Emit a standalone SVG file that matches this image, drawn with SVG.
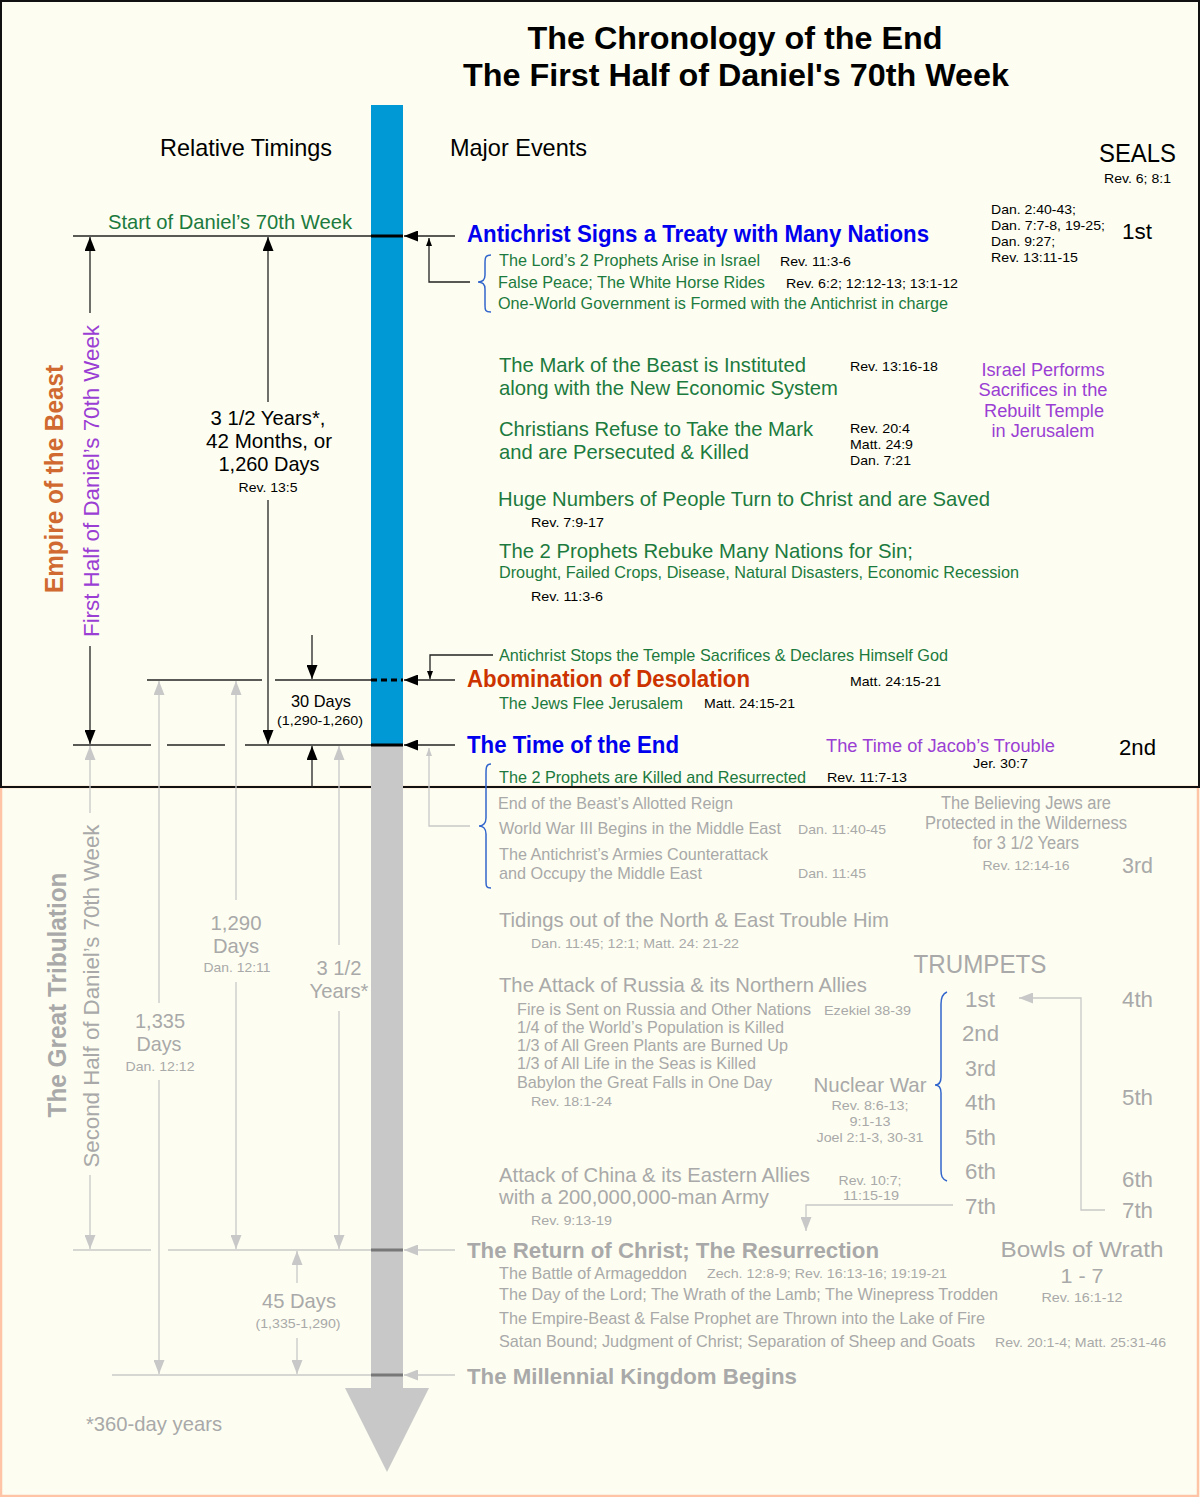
<svg xmlns="http://www.w3.org/2000/svg" width="1200" height="1497" viewBox="0 0 1200 1497">
<style>
text{font-family:"Liberation Sans",Arial,Helvetica,sans-serif}
.b{font-weight:bold}
.grn{fill:#1C7A3E}
.blk{fill:#000}
.gry{fill:#A9A9A9}
.blu{fill:#0000EE}
.pur{fill:#9B3FD4}
.red{fill:#CC3300}
.org{fill:#D06A30}
.s13{font-size:13.5px}
.s17{font-size:17px}
.s18{font-size:18px}
.s21{font-size:21px}
.s22{font-size:22px}
.s24{font-size:24px}
.s25{font-size:25px}
.m{text-anchor:middle}
.lk{stroke:#222;stroke-width:1.3;fill:none}
.lg{stroke:#C8C8C8;stroke-width:1.3;fill:none}
.br{stroke:#3366CC;stroke-width:1.5;fill:none}
</style>
<defs>
<marker id="ak" viewBox="0 0 14 11" refX="14" refY="5.5" markerWidth="14" markerHeight="11" markerUnits="userSpaceOnUse" orient="auto"><path d="M0,0L14,5.5L0,11z" fill="#000"/></marker>
<marker id="akS" viewBox="0 0 8 6" refX="8" refY="3" markerWidth="8" markerHeight="6" markerUnits="userSpaceOnUse" orient="auto"><path d="M0,0L8,3L0,6z" fill="#000"/></marker>
<marker id="ag" viewBox="0 0 14 11" refX="14" refY="5.5" markerWidth="14" markerHeight="11" markerUnits="userSpaceOnUse" orient="auto"><path d="M0,0L14,5.5L0,11z" fill="#C8C8C8"/></marker>
<marker id="agS" viewBox="0 0 8 6" refX="8" refY="3" markerWidth="8" markerHeight="6" markerUnits="userSpaceOnUse" orient="auto"><path d="M0,0L8,3L0,6z" fill="#C8C8C8"/></marker>
</defs>

<rect x="0" y="0" width="1200" height="1497" fill="#FDFEF1"/>
<rect x="1" y="787" width="1197" height="709" fill="none" stroke="#FFC4A6" stroke-width="2.5"/>
<rect x="1" y="1" width="1198" height="786" fill="none" stroke="#111" stroke-width="2"/>

<g id="timeline">
<rect x="371" y="105" width="32" height="640" fill="#0099D5"/>
<rect x="371" y="745" width="32" height="643" fill="#C8C8C8"/>
<path d="M345,1388 L429,1388 L387,1472 Z" fill="#C8C8C8"/>
</g>

<g id="title">
<text x="735" y="49" class="b m blk" style="font-size:32px" textLength="415" lengthAdjust="spacingAndGlyphs">The Chronology of the End</text>
<text x="736" y="86" class="b m blk" style="font-size:32px" textLength="546" lengthAdjust="spacingAndGlyphs">The First Half of Daniel's 70th Week</text>
</g>

<g id="headers">
<text x="160" y="156" class="s24 blk" textLength="172" lengthAdjust="spacingAndGlyphs">Relative Timings</text>
<text x="450" y="156" class="s24 blk" textLength="137" lengthAdjust="spacingAndGlyphs">Major Events</text>
<text x="1099" y="162" class="s25 blk" textLength="77" lengthAdjust="spacingAndGlyphs">SEALS</text>
<text x="1104" y="183" class="s13 blk" textLength="67" lengthAdjust="spacingAndGlyphs">Rev. 6; 8:1</text>
</g>

<g id="guides">
<line x1="73" y1="236" x2="371" y2="236" class="lk"/>
<line x1="371" y1="236" x2="403" y2="236" stroke="#000" stroke-width="3"/>
<line x1="147" y1="680" x2="262" y2="680" class="lk"/>
<line x1="275" y1="680" x2="371" y2="680" class="lk"/>
<line x1="371" y1="680" x2="403" y2="680" stroke="#000" stroke-width="3" stroke-dasharray="6,4"/>
<line x1="73" y1="745" x2="151" y2="745" class="lk"/>
<line x1="167" y1="745" x2="225" y2="745" class="lk"/>
<line x1="245" y1="745" x2="371" y2="745" class="lk"/>
<line x1="371" y1="745" x2="403" y2="745" stroke="#000" stroke-width="3"/>
<line x1="73" y1="1250" x2="151" y2="1250" class="lg"/>
<line x1="168" y1="1250" x2="371" y2="1250" class="lg"/>
<line x1="371" y1="1250" x2="403" y2="1250" stroke="#777" stroke-width="3"/>
<line x1="112" y1="1375" x2="371" y2="1375" class="lg"/>
<line x1="371" y1="1375" x2="403" y2="1375" stroke="#777" stroke-width="3"/>
</g>

<g id="connectors">
<line x1="455" y1="236" x2="404" y2="236" class="lk" marker-end="url(#ak)"/>
<polyline points="470,282 429,282 429,238" class="lk" marker-end="url(#akS)"/>
<line x1="90" y1="313" x2="90" y2="237" class="lk" marker-end="url(#ak)"/>
<line x1="90" y1="646" x2="90" y2="744" class="lk" marker-end="url(#ak)"/>
<line x1="268" y1="402" x2="268" y2="237" class="lk" marker-end="url(#ak)"/>
<line x1="268" y1="500" x2="268" y2="744" class="lk" marker-end="url(#ak)"/>
<line x1="455" y1="680" x2="404" y2="680" class="lk" marker-end="url(#ak)"/>
<polyline points="493,655 430,655 430,679" class="lk" marker-end="url(#akS)"/>
<line x1="312" y1="635" x2="312" y2="679" class="lk" marker-end="url(#ak)"/>
<line x1="312" y1="788" x2="312" y2="746" class="lk" marker-end="url(#ak)"/>
<line x1="455" y1="745" x2="404" y2="745" class="lk" marker-end="url(#ak)"/>
<line x1="90" y1="813" x2="90" y2="746" class="lg" marker-end="url(#ag)"/>
<line x1="90" y1="1175" x2="90" y2="1249" class="lg" marker-end="url(#ag)"/>
<line x1="159" y1="1003" x2="159" y2="681" class="lg" marker-end="url(#ag)"/>
<line x1="159" y1="1080" x2="159" y2="1374" class="lg" marker-end="url(#ag)"/>
<line x1="236" y1="900" x2="236" y2="681" class="lg" marker-end="url(#ag)"/>
<line x1="236" y1="982" x2="236" y2="1249" class="lg" marker-end="url(#ag)"/>
<line x1="339" y1="945" x2="339" y2="746" class="lg" marker-end="url(#ag)"/>
<line x1="339" y1="1011" x2="339" y2="1249" class="lg" marker-end="url(#ag)"/>
<polyline points="470,826 429,826 429,748" class="lg" marker-end="url(#agS)"/>
<line x1="455" y1="1250" x2="404" y2="1250" class="lg" marker-end="url(#ag)"/>
<line x1="297" y1="1283" x2="297" y2="1251" class="lg" marker-end="url(#ag)"/>
<line x1="297" y1="1338" x2="297" y2="1374" class="lg" marker-end="url(#ag)"/>
<line x1="455" y1="1375" x2="404" y2="1375" class="lg" marker-end="url(#ag)"/>
<polyline points="1105,1210 1081,1210 1081,998 1019,998" class="lg" marker-end="url(#ag)"/>
<polyline points="953,1205 806,1205 806,1231" class="lg" marker-end="url(#ag)"/>
<path d="M491,255 C485,255 485,258 485,264 L485,275 C485,280 482,282 478,282 C482,282 485,284 485,289 L485,305 C485,310 485,312 491,312" class="br"/>
<path d="M491,764 C486,764 486,768 486,774 L486,818 C486,823 483,826 479,826 C483,826 486,829 486,834 L486,880 C486,886 486,888 491,888" class="br"/>
<path d="M947,992 C942,994 941,998 941,1004 L941,1077 C941,1082 939,1085 935,1085 C939,1085 941,1088 941,1093 L941,1170 C941,1176 942,1179 947,1181" class="br"/>
</g>

<g id="side-labels">
<text transform="rotate(-90 63 479)" x="63" y="479" class="b m org s25" textLength="228" lengthAdjust="spacingAndGlyphs">Empire of the Beast</text>
<text transform="rotate(-90 99 481)" x="99" y="481" class="m pur s22" textLength="312" lengthAdjust="spacingAndGlyphs">First Half of Daniel’s 70th Week</text>
<text transform="rotate(-90 66 995)" x="66" y="995" class="b m gry s25" textLength="245" lengthAdjust="spacingAndGlyphs">The Great Tribulation</text>
<text transform="rotate(-90 99 996)" x="99" y="996" class="m gry s22" textLength="343" lengthAdjust="spacingAndGlyphs">Second Half of Daniel’s 70th Week</text>
</g>

<g id="start-70th-week">
<text x="108" y="229" class="grn s21" textLength="244" lengthAdjust="spacingAndGlyphs">Start of Daniel’s 70th Week</text>
</g>

<g id="first-half-duration">
<text x="268" y="425" class="m blk s21" textLength="115" lengthAdjust="spacingAndGlyphs">3 1/2 Years*,</text>
<text x="269" y="448" class="m blk s21" textLength="126" lengthAdjust="spacingAndGlyphs">42 Months, or</text>
<text x="269" y="471" class="m blk s21" textLength="101" lengthAdjust="spacingAndGlyphs">1,260 Days</text>
<text x="268" y="492" class="m blk s13" textLength="59" lengthAdjust="spacingAndGlyphs">Rev. 13:5</text>
</g>

<g id="thirty-days">
<text x="321" y="707" class="m blk s17" textLength="60" lengthAdjust="spacingAndGlyphs">30 Days</text>
<text x="320" y="725" class="m blk s13" textLength="86" lengthAdjust="spacingAndGlyphs">(1,290-1,260)</text>
</g>

<g id="seal-1">
<text x="991" y="214" class="s13 blk" textLength="85" lengthAdjust="spacingAndGlyphs">Dan. 2:40-43;</text>
<text x="991" y="230" class="s13 blk" textLength="114" lengthAdjust="spacingAndGlyphs">Dan. 7:7-8, 19-25;</text>
<text x="991" y="246" class="s13 blk" textLength="64" lengthAdjust="spacingAndGlyphs">Dan. 9:27;</text>
<text x="991" y="262" class="s13 blk" textLength="87" lengthAdjust="spacingAndGlyphs">Rev. 13:11-15</text>
<text x="1122" y="239" class="s22 blk" textLength="30" lengthAdjust="spacingAndGlyphs">1st</text>
</g>

<g id="treaty">
<text x="467" y="242" class="b blu s24" textLength="462" lengthAdjust="spacingAndGlyphs">Antichrist Signs a Treaty with Many Nations</text>
<text x="499" y="266" class="grn s17" textLength="261" lengthAdjust="spacingAndGlyphs">The Lord’s 2 Prophets Arise in Israel</text>
<text x="780" y="266" class="blk s13" textLength="71" lengthAdjust="spacingAndGlyphs">Rev. 11:3-6</text>
<text x="498" y="288" class="grn s17" textLength="267" lengthAdjust="spacingAndGlyphs">False Peace; The White Horse Rides</text>
<text x="786" y="288" class="blk s13" textLength="172" lengthAdjust="spacingAndGlyphs">Rev. 6:2; 12:12-13; 13:1-12</text>
<text x="498" y="309" class="grn s17" textLength="450" lengthAdjust="spacingAndGlyphs">One-World Government is Formed with the Antichrist in charge</text>
</g>

<g id="mark-of-beast">
<text x="499" y="372" class="grn s21" textLength="307" lengthAdjust="spacingAndGlyphs">The Mark of the Beast is Instituted</text>
<text x="499" y="395" class="grn s21" textLength="339" lengthAdjust="spacingAndGlyphs">along with the New Economic System</text>
<text x="850" y="371" class="blk s13" textLength="88" lengthAdjust="spacingAndGlyphs">Rev. 13:16-18</text>
</g>

<g id="israel-sacrifices">
<text x="1043" y="376" class="m pur s18" textLength="123" lengthAdjust="spacingAndGlyphs">Israel Performs</text>
<text x="1043" y="396" class="m pur s18" textLength="129" lengthAdjust="spacingAndGlyphs">Sacrifices in the</text>
<text x="1044" y="417" class="m pur s18" textLength="120" lengthAdjust="spacingAndGlyphs">Rebuilt Temple</text>
<text x="1043" y="437" class="m pur s18" textLength="103" lengthAdjust="spacingAndGlyphs">in Jerusalem</text>
</g>

<g id="christians-persecuted">
<text x="499" y="436" class="grn s21" textLength="314" lengthAdjust="spacingAndGlyphs">Christians Refuse to Take the Mark</text>
<text x="499" y="459" class="grn s21" textLength="250" lengthAdjust="spacingAndGlyphs">and are Persecuted &amp; Killed</text>
<text x="850" y="433" class="blk s13" textLength="60" lengthAdjust="spacingAndGlyphs">Rev. 20:4</text>
<text x="850" y="449" class="blk s13" textLength="63" lengthAdjust="spacingAndGlyphs">Matt. 24:9</text>
<text x="850" y="465" class="blk s13" textLength="61" lengthAdjust="spacingAndGlyphs">Dan. 7:21</text>
</g>

<g id="huge-numbers">
<text x="498" y="506" class="grn s21" textLength="492" lengthAdjust="spacingAndGlyphs">Huge Numbers of People Turn to Christ and are Saved</text>
<text x="531" y="527" class="blk s13" textLength="73" lengthAdjust="spacingAndGlyphs">Rev. 7:9-17</text>
</g>

<g id="prophets-rebuke">
<text x="499" y="558" class="grn s21" textLength="414" lengthAdjust="spacingAndGlyphs">The 2 Prophets Rebuke Many Nations for Sin;</text>
<text x="499" y="578" class="grn s17" textLength="520" lengthAdjust="spacingAndGlyphs">Drought, Failed Crops, Disease, Natural Disasters, Economic Recession</text>
<text x="531" y="601" class="blk s13" textLength="72" lengthAdjust="spacingAndGlyphs">Rev. 11:3-6</text>
</g>

<g id="abomination">
<text x="499" y="661" class="grn s17" textLength="449" lengthAdjust="spacingAndGlyphs">Antichrist Stops the Temple Sacrifices &amp; Declares Himself God</text>
<text x="467" y="687" class="b red s24" textLength="283" lengthAdjust="spacingAndGlyphs">Abomination of Desolation</text>
<text x="850" y="686" class="blk s13" textLength="91" lengthAdjust="spacingAndGlyphs">Matt. 24:15-21</text>
<text x="499" y="709" class="grn s17" textLength="184" lengthAdjust="spacingAndGlyphs">The Jews Flee Jerusalem</text>
<text x="704" y="708" class="blk s13" textLength="91" lengthAdjust="spacingAndGlyphs">Matt. 24:15-21</text>
</g>

<g id="time-of-end">
<text x="467" y="753" class="b blu s24" textLength="212" lengthAdjust="spacingAndGlyphs">The Time of the End</text>
<text x="826" y="752" class="pur s18" textLength="229" lengthAdjust="spacingAndGlyphs">The Time of Jacob’s Trouble</text>
<text x="973" y="768" class="blk s13" textLength="55" lengthAdjust="spacingAndGlyphs">Jer. 30:7</text>
<text x="1119" y="755" class="blk s22" textLength="37" lengthAdjust="spacingAndGlyphs">2nd</text>
<text x="499" y="783" class="grn s17" textLength="307" lengthAdjust="spacingAndGlyphs">The 2 Prophets are Killed and Resurrected</text>
<text x="827" y="782" class="blk s13" textLength="80" lengthAdjust="spacingAndGlyphs">Rev. 11:7-13</text>
</g>

<g id="end-of-reign">
<text x="498" y="809" class="gry s17" textLength="235" lengthAdjust="spacingAndGlyphs">End of the Beast’s Allotted Reign</text>
<text x="499" y="834" class="gry s17" textLength="282" lengthAdjust="spacingAndGlyphs">World War III Begins in the Middle East</text>
<text x="798" y="834" class="gry s13" textLength="88" lengthAdjust="spacingAndGlyphs">Dan. 11:40-45</text>
<text x="499" y="860" class="gry s17" textLength="269" lengthAdjust="spacingAndGlyphs">The Antichrist’s Armies Counterattack</text>
<text x="499" y="879" class="gry s17" textLength="203" lengthAdjust="spacingAndGlyphs">and Occupy the Middle East</text>
<text x="798" y="878" class="gry s13" textLength="68" lengthAdjust="spacingAndGlyphs">Dan. 11:45</text>
</g>

<g id="believing-jews">
<text x="1026" y="809" class="m gry s18" textLength="170" lengthAdjust="spacingAndGlyphs">The Believing Jews are</text>
<text x="1026" y="829" class="m gry s18" textLength="202" lengthAdjust="spacingAndGlyphs">Protected in the Wilderness</text>
<text x="1026" y="849" class="m gry s18" textLength="106" lengthAdjust="spacingAndGlyphs">for 3 1/2 Years</text>
<text x="1026" y="870" class="m gry s13" textLength="87" lengthAdjust="spacingAndGlyphs">Rev. 12:14-16</text>
<text x="1122" y="873" class="gry s22" textLength="31" lengthAdjust="spacingAndGlyphs">3rd</text>
</g>

<g id="durations-second-half">
<text x="236" y="930" class="m gry s21" textLength="51" lengthAdjust="spacingAndGlyphs">1,290</text>
<text x="236" y="953" class="m gry s21" textLength="46" lengthAdjust="spacingAndGlyphs">Days</text>
<text x="237" y="972" class="m gry s13" textLength="67" lengthAdjust="spacingAndGlyphs">Dan. 12:11</text>
<text x="339" y="975" class="m gry s21" textLength="45" lengthAdjust="spacingAndGlyphs">3 1/2</text>
<text x="339" y="998" class="m gry s21" textLength="59" lengthAdjust="spacingAndGlyphs">Years*</text>
<text x="160" y="1028" class="m gry s21" textLength="50" lengthAdjust="spacingAndGlyphs">1,335</text>
<text x="159" y="1051" class="m gry s21" textLength="45" lengthAdjust="spacingAndGlyphs">Days</text>
<text x="160" y="1071" class="m gry s13" textLength="69" lengthAdjust="spacingAndGlyphs">Dan. 12:12</text>
<text x="299" y="1308" class="m gry s21" textLength="74" lengthAdjust="spacingAndGlyphs">45 Days</text>
<text x="298" y="1328" class="m gry s13" textLength="85" lengthAdjust="spacingAndGlyphs">(1,335-1,290)</text>
<text x="86" y="1431" class="gry s21" textLength="136" lengthAdjust="spacingAndGlyphs">*360-day years</text>
</g>

<g id="tidings">
<text x="499" y="927" class="gry s21" textLength="390" lengthAdjust="spacingAndGlyphs">Tidings out of the North &amp; East Trouble Him</text>
<text x="531" y="948" class="gry s13" textLength="208" lengthAdjust="spacingAndGlyphs">Dan. 11:45; 12:1; Matt. 24: 21-22</text>
</g>

<g id="russia-attack">
<text x="499" y="992" class="gry s21" textLength="368" lengthAdjust="spacingAndGlyphs">The Attack of Russia &amp; its Northern Allies</text>
<text x="517" y="1015" class="gry s17" textLength="294" lengthAdjust="spacingAndGlyphs">Fire is Sent on Russia and Other Nations</text>
<text x="824" y="1015" class="gry s13" textLength="87" lengthAdjust="spacingAndGlyphs">Ezekiel 38-39</text>
<text x="517" y="1033" class="gry s17" textLength="267" lengthAdjust="spacingAndGlyphs">1/4 of the World’s Population is Killed</text>
<text x="517" y="1051" class="gry s17" textLength="271" lengthAdjust="spacingAndGlyphs">1/3 of All Green Plants are Burned Up</text>
<text x="517" y="1069" class="gry s17" textLength="239" lengthAdjust="spacingAndGlyphs">1/3 of All Life in the Seas is Killed</text>
<text x="517" y="1088" class="gry s17" textLength="255" lengthAdjust="spacingAndGlyphs">Babylon the Great Falls in One Day</text>
<text x="531" y="1106" class="gry s13" textLength="81" lengthAdjust="spacingAndGlyphs">Rev. 18:1-24</text>
</g>

<g id="nuclear-war">
<text x="870" y="1092" class="m gry s21" textLength="113" lengthAdjust="spacingAndGlyphs">Nuclear War</text>
<text x="870" y="1110" class="m gry s13" textLength="77" lengthAdjust="spacingAndGlyphs">Rev. 8:6-13;</text>
<text x="870" y="1126" class="m gry s13" textLength="41" lengthAdjust="spacingAndGlyphs">9:1-13</text>
<text x="870" y="1142" class="m gry s13" textLength="107" lengthAdjust="spacingAndGlyphs">Joel 2:1-3, 30-31</text>
</g>

<g id="china-attack">
<text x="499" y="1182" class="gry s21" textLength="311" lengthAdjust="spacingAndGlyphs">Attack of China &amp; its Eastern Allies</text>
<text x="499" y="1204" class="gry s21" textLength="270" lengthAdjust="spacingAndGlyphs">with a 200,000,000-man Army</text>
<text x="531" y="1225" class="gry s13" textLength="81" lengthAdjust="spacingAndGlyphs">Rev. 9:13-19</text>
<text x="870" y="1185" class="m gry s13" textLength="63" lengthAdjust="spacingAndGlyphs">Rev. 10:7;</text>
<text x="871" y="1200" class="m gry s13" textLength="56" lengthAdjust="spacingAndGlyphs">11:15-19</text>
</g>

<g id="trumpets">
<text x="980" y="973" class="m gry s25" textLength="133" lengthAdjust="spacingAndGlyphs">TRUMPETS</text>
<text x="965" y="1007" class="gry s22" textLength="30" lengthAdjust="spacingAndGlyphs">1st</text>
<text x="962" y="1041" class="gry s22" textLength="37" lengthAdjust="spacingAndGlyphs">2nd</text>
<text x="965" y="1076" class="gry s22" textLength="31" lengthAdjust="spacingAndGlyphs">3rd</text>
<text x="965" y="1110" class="gry s22" textLength="31" lengthAdjust="spacingAndGlyphs">4th</text>
<text x="965" y="1145" class="gry s22" textLength="31" lengthAdjust="spacingAndGlyphs">5th</text>
<text x="965" y="1179" class="gry s22" textLength="31" lengthAdjust="spacingAndGlyphs">6th</text>
<text x="965" y="1214" class="gry s22" textLength="31" lengthAdjust="spacingAndGlyphs">7th</text>
</g>

<g id="seals-lower">
<text x="1122" y="1007" class="gry s22" textLength="31" lengthAdjust="spacingAndGlyphs">4th</text>
<text x="1122" y="1105" class="gry s22" textLength="31" lengthAdjust="spacingAndGlyphs">5th</text>
<text x="1122" y="1187" class="gry s22" textLength="31" lengthAdjust="spacingAndGlyphs">6th</text>
<text x="1122" y="1218" class="gry s22" textLength="31" lengthAdjust="spacingAndGlyphs">7th</text>
</g>

<g id="return-of-christ">
<text x="467" y="1258" class="b gry s22" textLength="412" lengthAdjust="spacingAndGlyphs">The Return of Christ; The Resurrection</text>
<text x="499" y="1279" class="gry s17" textLength="188" lengthAdjust="spacingAndGlyphs">The Battle of Armageddon</text>
<text x="707" y="1278" class="gry s13" textLength="240" lengthAdjust="spacingAndGlyphs">Zech. 12:8-9; Rev. 16:13-16; 19:19-21</text>
<text x="499" y="1300" class="gry s17" textLength="499" lengthAdjust="spacingAndGlyphs">The Day of the Lord; The Wrath of the Lamb; The Winepress Trodden</text>
<text x="499" y="1324" class="gry s17" textLength="486" lengthAdjust="spacingAndGlyphs">The Empire-Beast &amp; False Prophet are Thrown into the Lake of Fire</text>
<text x="499" y="1347" class="gry s17" textLength="476" lengthAdjust="spacingAndGlyphs">Satan Bound; Judgment of Christ; Separation of Sheep and Goats</text>
<text x="995" y="1347" class="gry s13" textLength="171" lengthAdjust="spacingAndGlyphs">Rev. 20:1-4; Matt. 25:31-46</text>
</g>

<g id="bowls-of-wrath">
<text x="1082" y="1257" class="m gry s22" textLength="163" lengthAdjust="spacingAndGlyphs">Bowls of Wrath</text>
<text x="1082" y="1283" class="m gry s21" textLength="43" lengthAdjust="spacingAndGlyphs">1 - 7</text>
<text x="1082" y="1302" class="m gry s13" textLength="81" lengthAdjust="spacingAndGlyphs">Rev. 16:1-12</text>
</g>

<g id="millennial-kingdom">
<text x="467" y="1384" class="b gry s22" textLength="330" lengthAdjust="spacingAndGlyphs">The Millennial Kingdom Begins</text>
</g>
</svg>
